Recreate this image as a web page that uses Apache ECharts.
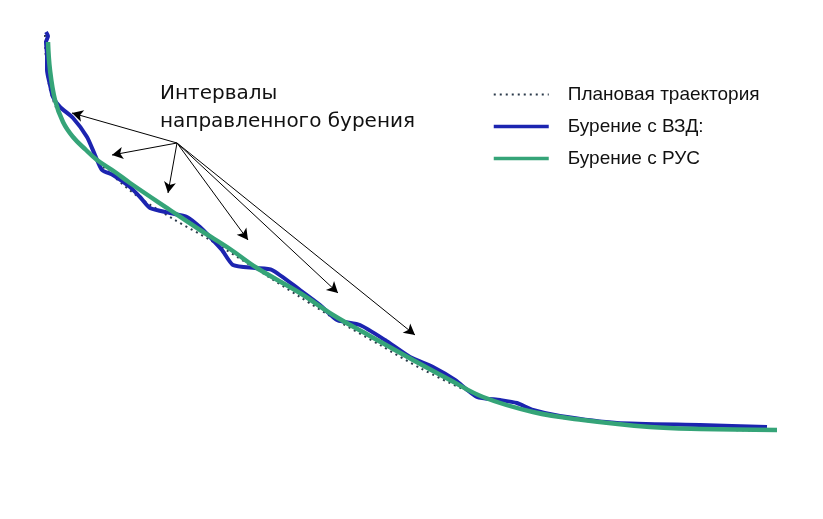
<!DOCTYPE html>
<html><head><meta charset="utf-8">
<script src="https://cdn.jsdelivr.net/npm/echarts@6/dist/echarts.min.js"></script>
<style>html,body{margin:0;padding:0;background:#fff}#c{width:823px;height:519px}</style>
</head><body><div id="c"></div>
<script>
// Horizontal displacement (x) and depth (y)
const planX = [45,46,50,58,70,88,112,140,175,210,250,300,340,380,420,470,520,570,650,770];
const planY = [35,60,90,112,132,152,175,198,220,240,265,297,322,345,368,392,409,419,427,431];
const rusX = [48,50,55,63,73,86,97,115,130,170,200,230,257,300,333,370,413,450,483,533,583,650,700,777];
const rusY = [42,70,100,122,137,150,160,172,183,210,230,249,268,293,315,336,360,380,397,412,420,427,429,430];
const vzdX = [46,48,46,47,47,50,53,60,73,87,95,102,113,130,140,150,170,187,200,210,222,233,255,272,300,320,337,360,385,410,433,455,477,500,517,533,560,617,700,767];
const vzdY = [32,36,42,55,70,85,97,107,118,137,155,170,175,187,197,208,213,217,227,237,250,265,268,270,290,305,320,325,340,357,367,380,397,400,403,410,416,423,425,427];
const seriesNames = ['Плановая траектория', 'Бурение с ВЗД:', 'Бурение с РУС'];
const annotationLines = ['Интервалы', 'направленного бурения'];
// arrows: common origin and the intervals they point to
const arrowFrom = [177, 143];
const arrowToX = [72, 112, 168, 248, 338, 415];
const arrowToY = [113, 155, 193, 240, 293, 335];

const C_PLAN = '#2b3a4a', C_VZD = '#1c24b0', C_RUS = '#35a478';
const zip = (xs, ys) => xs.map((x, i) => [x, ys[i]]);
const chart = echarts.init(document.getElementById('c'));
chart.setOption({
  animation: false,
  backgroundColor: '#fff',
  grid: {left: 0, right: 0, top: 0, bottom: 0},
  xAxis: {type: 'value', min: 0, max: 823, show: false},
  yAxis: {type: 'value', min: 0, max: 519, inverse: true, show: false},
  legend: {
    orient: 'vertical', left: 487, top: 80, itemWidth: 55, itemHeight: 14, itemGap: 13,
    itemStyle: {opacity: 0},
    data: [
      {name: seriesNames[0], lineStyle: {color: C_PLAN, width: 2, type: [2, 4]}},
      {name: seriesNames[1], lineStyle: {color: C_VZD, width: 3.5}},
      {name: seriesNames[2], lineStyle: {color: C_RUS, width: 3.5}}
    ],
    textStyle: {fontFamily: 'Liberation Sans', fontSize: 19, color: '#111', padding: [0, 0, 0, 14]}
  },
  graphic: [{
    type: 'text', left: 160, top: 80,
    style: {text: annotationLines.join('\n'), font: '20px "DejaVu Sans"', fill: '#111', lineHeight: 28}
  }],
  series: [
    {name: seriesNames[0], type: 'line', data: zip(planX, planY), symbol: 'none', smooth: 0.3,
     lineStyle: {color: C_PLAN, width: 2, type: [2, 4]}, itemStyle: {color: C_PLAN}, z: 1,
     markLine: {
       silent: true, symbol: ['none', 'arrow'], symbolSize: [9, 11],
       label: {show: false},
       lineStyle: {color: '#000', width: 1, type: 'solid'},
       data: arrowToX.map((x, i) => [{coord: arrowFrom}, {coord: [x, arrowToY[i]]}])
     }},
    {name: seriesNames[1], type: 'line', data: zip(vzdX, vzdY), symbol: 'none', smooth: 0.2,
     lineStyle: {color: C_VZD, width: 4}, itemStyle: {color: C_VZD}, z: 2},
    {name: seriesNames[2], type: 'line', data: zip(rusX, rusY), symbol: 'none', smooth: 0.4,
     lineStyle: {color: C_RUS, width: 4.5}, itemStyle: {color: C_RUS}, z: 3}
  ]
});
</script></body></html>
